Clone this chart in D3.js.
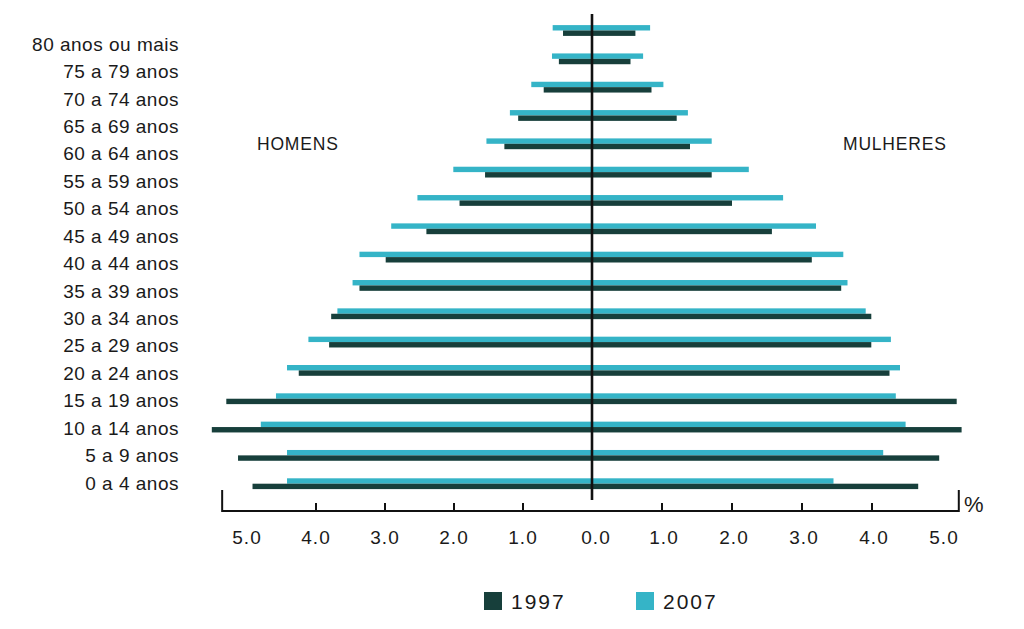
<!DOCTYPE html>
<html>
<head>
<meta charset="utf-8">
<script src="https://cdn.jsdelivr.net/npm/d3@7"></script>
<style>
  html, body { margin: 0; padding: 0; background: #ffffff; }
  svg { display: block; }
  text { font-family: "Liberation Sans", Arial, sans-serif; fill: #1a1a1a; }
</style>
</head>
<body>
<svg id="chart" width="1024" height="629"></svg>
<script>
// Age groups, top to bottom as drawn
const categories = [
  "80 anos ou mais", "75 a 79 anos", "70 a 74 anos", "65 a 69 anos",
  "60 a 64 anos", "55 a 59 anos", "50 a 54 anos", "45 a 49 anos",
  "40 a 44 anos", "35 a 39 anos", "30 a 34 anos", "25 a 29 anos",
  "20 a 24 anos", "15 a 19 anos", "10 a 14 anos", "5 a 9 anos", "0 a 4 anos"
];
// Percent of population (men / women), same order as categories
const men1997   = [0.42, 0.48, 0.70, 1.07, 1.27, 1.55, 1.92, 2.40, 2.99, 3.37, 3.78, 3.81, 4.25, 5.30, 5.51, 5.13, 4.92];
const men2007   = [0.57, 0.58, 0.88, 1.19, 1.53, 2.01, 2.53, 2.91, 3.37, 3.47, 3.69, 4.11, 4.42, 4.58, 4.80, 4.42, 4.42];
const women1997 = [0.62, 0.55, 0.85, 1.21, 1.40, 1.71, 2.00, 2.57, 3.14, 3.56, 3.99, 3.99, 4.25, 5.21, 5.28, 4.96, 4.66];
const women2007 = [0.83, 0.73, 1.02, 1.37, 1.71, 2.24, 2.73, 3.20, 3.59, 3.65, 3.91, 4.27, 4.40, 4.34, 4.48, 4.16, 3.45];
const years = ["1997", "2007"];
const tickValues = [0, 1, 2, 3, 4, 5];
const sideLabels = ["HOMENS", "MULHERES"];
const unitLabel = "%";

const colors = { "1997": "#173f3b", "2007": "#35b4c7" };

const svg = d3.select("#chart");
const cx = 592;
const xL = d3.scaleLinear().domain([0, 5]).range([cx, cx - 5 * 69]);
const xR = d3.scaleLinear().domain([0, 5]).range([cx, cx + 5 * 70]);
const y = d3.scalePoint().domain(categories).range([30.5, 483.7]);
const yLab = d3.scalePoint().domain(categories).range([44, 483]);
const barH = 5.4;

const rows = categories.map((c, i) => ({
  c, m97: men1997[i], m07: men2007[i], w97: women1997[i], w07: women2007[i]
}));

const g = svg.append("g");

// 2007 bars (upper), 1997 bars (lower)
g.selectAll("rect.m07").data(rows).join("rect")
  .attr("x", d => xL(d.m07)).attr("y", d => y(d.c) - barH)
  .attr("width", d => xL(0) - xL(d.m07)).attr("height", barH)
  .attr("fill", colors["2007"]);
g.selectAll("rect.m97").data(rows).join("rect")
  .attr("x", d => xL(d.m97)).attr("y", d => y(d.c))
  .attr("width", d => xL(0) - xL(d.m97)).attr("height", barH)
  .attr("fill", colors["1997"]);
g.selectAll("rect.w07").data(rows).join("rect")
  .attr("x", xR(0)).attr("y", d => y(d.c) - barH)
  .attr("width", d => xR(d.w07) - xR(0)).attr("height", barH)
  .attr("fill", colors["2007"]);
g.selectAll("rect.w97").data(rows).join("rect")
  .attr("x", xR(0)).attr("y", d => y(d.c))
  .attr("width", d => xR(d.w97) - xR(0)).attr("height", barH)
  .attr("fill", colors["1997"]);

// center line
svg.append("line")
  .attr("x1", cx).attr("x2", cx).attr("y1", 14).attr("y2", 500)
  .attr("stroke", "#111").attr("stroke-width", 2.6);

// category labels
svg.selectAll("text.cat").data(categories).join("text")
  .attr("class", "cat")
  .attr("x", 179).attr("y", d => yLab(d))
  .attr("dy", "0.35em").attr("text-anchor", "end")
  .style("font-size", "19px").style("letter-spacing", "0.5px")
  .text(d => d);

// bottom axis
const axisY = 511;
const ax = svg.append("g");
ax.append("line")
  .attr("x1", xL(5.36)).attr("x2", xR(5.24)).attr("y1", axisY).attr("y2", axisY)
  .attr("stroke", "#111").attr("stroke-width", 2);
[xL(5.36), xR(5.24)].forEach(px => {
  ax.append("line").attr("x1", px).attr("x2", px).attr("y1", 490).attr("y2", axisY + 1)
    .attr("stroke", "#111").attr("stroke-width", 2);
});
const inner = tickValues.filter(v => v > 0 && v < 5);
ax.selectAll("line.tl").data(inner).join("line")
  .attr("x1", d => xL(d)).attr("x2", d => xL(d)).attr("y1", 503).attr("y2", axisY)
  .attr("stroke", "#111").attr("stroke-width", 2);
ax.selectAll("line.tr").data(inner).join("line")
  .attr("x1", d => xR(d)).attr("x2", d => xR(d)).attr("y1", 503).attr("y2", axisY)
  .attr("stroke", "#111").attr("stroke-width", 2);

const fmt = d3.format(".1f");
ax.selectAll("text.tl").data(tickValues).join("text")
  .attr("x", d => d === 0 ? cx + 4 : xL(d)).attr("y", 544)
  .attr("text-anchor", "middle")
  .style("font-size", "19px").style("letter-spacing", "1px")
  .text(d => fmt(d));
ax.selectAll("text.tr").data(tickValues.filter(v => v > 0)).join("text")
  .attr("x", d => xR(d) + 2).attr("y", 544)
  .attr("text-anchor", "middle")
  .style("font-size", "19px").style("letter-spacing", "1px")
  .text(d => fmt(d));

svg.append("text").attr("x", 964).attr("y", 512)
  .style("font-size", "22px").text(unitLabel);

// side labels
svg.append("text").attr("x", 257).attr("y", 150)
  .style("font-size", "17.5px").style("letter-spacing", "0.8px").text(sideLabels[0]);
svg.append("text").attr("x", 843).attr("y", 150)
  .style("font-size", "17.5px").style("letter-spacing", "0.8px").text(sideLabels[1]);

// legend
const legX = [484, 636];
const leg = svg.selectAll("g.leg").data(years).join("g")
  .attr("transform", (d, i) => `translate(${legX[i]},592)`);
leg.append("rect").attr("width", 18).attr("height", 18).attr("fill", d => colors[d]);
leg.append("text").attr("x", 27).attr("y", 17)
  .style("font-size", "21px").style("letter-spacing", "2px").text(d => d);
</script>
</body>
</html>
